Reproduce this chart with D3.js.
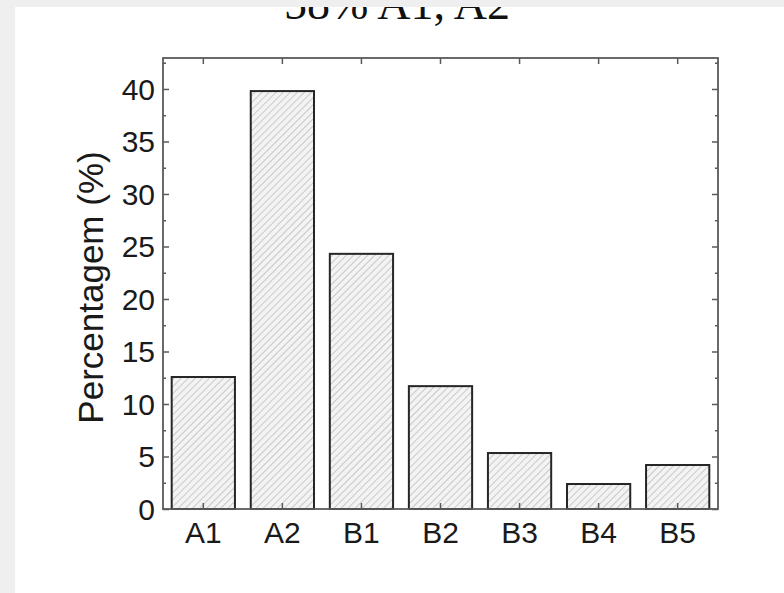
<!DOCTYPE html>
<html>
<head>
<meta charset="utf-8">
<script src="https://cdn.jsdelivr.net/npm/d3@7"></script>
<style>
  html, body { margin: 0; padding: 0; background: #efefef; }
  svg { display: block; }
</style>
</head>
<body>
<svg id="chart"></svg>
<script>
const width = 784
const height = 593

// Data
const categories = ["A1", "A2", "B1", "B2", "B3", "B4", "B5"]
const percentages = [12.57, 39.8, 24.3, 11.7, 5.33, 2.38, 4.19]
const yTicks = [0, 5, 10, 15, 20, 25, 30, 35, 40]
const yMinorTicks = [2.5, 7.5, 12.5, 17.5, 22.5, 27.5, 32.5, 37.5, 42.5]
const titleText = "58% A1, A2"
const yLabelText = "Percentagem (%)"

// Frame configuration
const plotLeft = 163
const plotRight = 718
const plotTop = 58
const plotBottom = 509
const frameColor = "#5a5a5a"
const barStroke = "#262626"
const majorTick = 6
const minorTick = 3

const svg = d3.select("#chart")
    .attr("width", width)
    .attr("height", height)

// Backgrounds
svg.append("rect")
    .attr("width", width).attr("height", height)
    .attr("fill", "#efefef")
svg.append("rect")
    .attr("x", 15).attr("y", 7)
    .attr("width", width - 15).attr("height", height - 7)
    .attr("fill", "#ffffff")

// Hatch pattern
const defs = svg.append("defs")
const pattern = defs.append("pattern")
    .attr("id", "hatch")
    .attr("patternUnits", "userSpaceOnUse")
    .attr("width", 5)
    .attr("height", 5)
    .attr("patternTransform", "rotate(45)")
pattern.append("rect")
    .attr("width", 5).attr("height", 5)
    .attr("fill", "#f3f3f3")
pattern.append("line")
    .attr("x1", 0).attr("y1", 0)
    .attr("x2", 0).attr("y2", 5)
    .attr("stroke", "#b3b3b3")
    .attr("stroke-width", 1.3)

// Scales
const x = d3.scaleBand()
    .domain(categories)
    .range([plotLeft, plotRight])
    .paddingInner(0.2)
    .paddingOuter(0.11)

const y = d3.scaleLinear()
    .domain([0, 42.95])
    .range([plotBottom, plotTop])

// Bars
svg.append("g")
    .selectAll("rect")
    .data(percentages)
    .enter()
    .append("rect")
    .attr("x", (d, i) => x(categories[i]))
    .attr("y", d => y(d))
    .attr("width", x.bandwidth())
    .attr("height", d => y(0) - y(d))
    .attr("fill", "url(#hatch)")
    .attr("stroke", barStroke)
    .attr("stroke-width", 2)

// Axes: ticks on all four sides pointing inward
const tickFont = "'Liberation Sans', Arial, sans-serif"

const leftAxis = svg.append("g")
    .attr("transform", `translate(${plotLeft},0)`)
    .call(d3.axisRight(y).tickValues(yTicks).tickSize(majorTick).tickFormat(""))
const leftMinor = svg.append("g")
    .attr("transform", `translate(${plotLeft},0)`)
    .call(d3.axisRight(y).tickValues(yMinorTicks).tickSize(minorTick).tickFormat(""))
const rightAxis = svg.append("g")
    .attr("transform", `translate(${plotRight},0)`)
    .call(d3.axisLeft(y).tickValues(yTicks).tickSize(majorTick).tickFormat(""))
const rightMinor = svg.append("g")
    .attr("transform", `translate(${plotRight},0)`)
    .call(d3.axisLeft(y).tickValues(yMinorTicks).tickSize(minorTick).tickFormat(""))
const bottomAxis = svg.append("g")
    .attr("transform", `translate(0,${plotBottom})`)
    .call(d3.axisTop(x).tickSize(majorTick).tickFormat(""))
const topAxis = svg.append("g")
    .attr("transform", `translate(0,${plotTop})`)
    .call(d3.axisBottom(x).tickSize(majorTick).tickFormat(""))

;[leftAxis, leftMinor, rightAxis, rightMinor, bottomAxis, topAxis].forEach(g => {
    g.select(".domain").remove()
    g.selectAll("line").attr("stroke", frameColor).attr("stroke-width", 1.5)
})

// Frame
svg.append("rect")
    .attr("x", plotLeft).attr("y", plotTop)
    .attr("width", plotRight - plotLeft)
    .attr("height", plotBottom - plotTop)
    .attr("fill", "none")
    .attr("stroke", frameColor)
    .attr("stroke-width", 1.8)

// Tick labels
svg.append("g")
    .selectAll("text")
    .data(yTicks)
    .enter()
    .append("text")
    .attr("x", plotLeft - 8)
    .attr("y", d => y(d))
    .attr("dy", "0.36em")
    .attr("text-anchor", "end")
    .attr("font-family", tickFont)
    .attr("font-size", 30)
    .attr("fill", "#1a1a1a")
    .text(d => d)

svg.append("g")
    .selectAll("text")
    .data(categories)
    .enter()
    .append("text")
    .attr("x", d => x(d) + x.bandwidth() / 2)
    .attr("y", plotBottom + 34)
    .attr("text-anchor", "middle")
    .attr("font-family", tickFont)
    .attr("font-size", 30)
    .attr("fill", "#1a1a1a")
    .text(d => d)

// Axis title
svg.append("text")
    .attr("transform", `translate(103,${(plotTop + plotBottom) / 2 + 4}) rotate(-90)`)
    .attr("text-anchor", "middle")
    .attr("font-family", tickFont)
    .attr("font-size", 35)
    .attr("fill", "#1a1a1a")
    .text(yLabelText)

// Title, partly cut off by the grey strip above the panel
svg.append("text")
    .attr("x", 397)
    .attr("y", 19)
    .attr("text-anchor", "middle")
    .attr("font-family", "'Liberation Serif', 'Times New Roman', serif")
    .attr("font-size", 46)
    .attr("fill", "#111")
    .text(titleText)

svg.append("rect")
    .attr("width", width).attr("height", 7)
    .attr("fill", "#efefef")
</script>
</body>
</html>
